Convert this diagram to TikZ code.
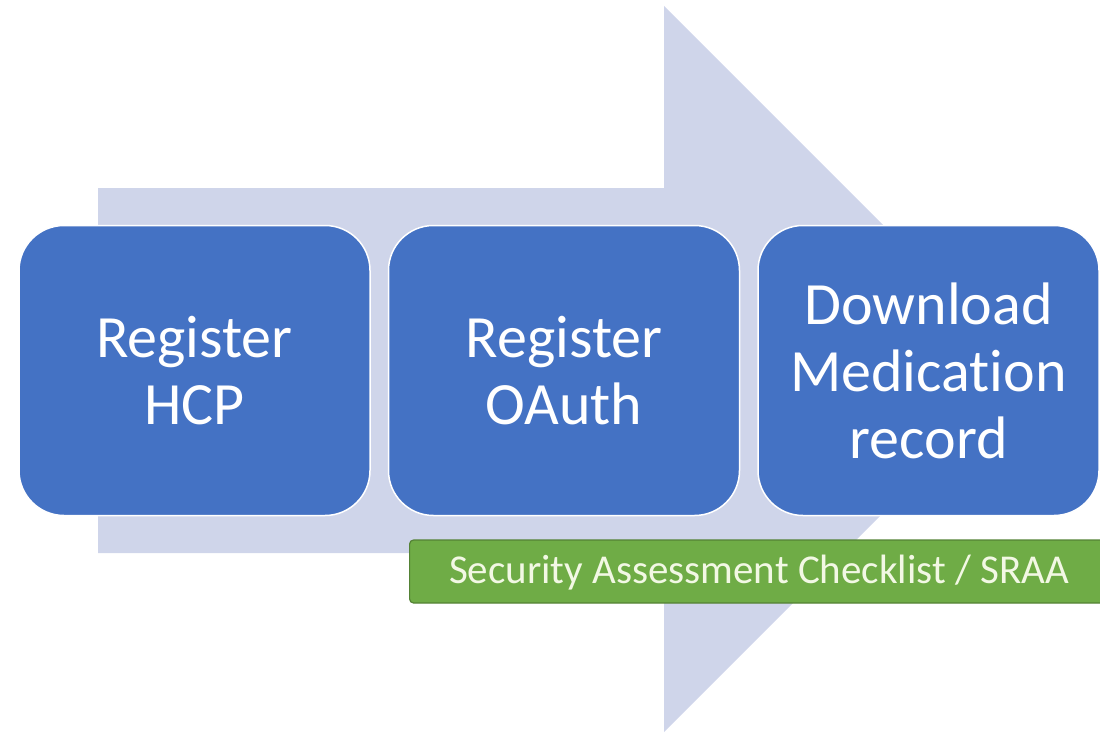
\documentclass[tikz,border=0pt]{standalone}
\usepackage{fontspec}
\setmainfont{Carlito}[Ligatures=NoCommon]
\usetikzlibrary{calc, positioning}
\definecolor{stepblue}{HTML}{4472C4}
\definecolor{arrowgray}{HTML}{CFD5EA}
\definecolor{checkgreen}{HTML}{6FAC46}
\definecolor{checkline}{HTML}{548235}
\definecolor{checktext}{HTML}{F2F8E4}
\tikzstyle{stepbox}=[rectangle, rounded corners=45pt, draw=white, line width=1.5pt, fill=stepblue, text=white, align=center, minimum width=351pt, minimum height=290pt, inner sep=0pt, font=\fontsize{60}{67}\selectfont]

\begin{document}
\begin{tikzpicture}[x=1pt, y=-1pt]

\useasboundingbox (0,0) rectangle (1100,733);
% big background arrow
\fill[arrowgray] (98,188) -- (664,188) -- (664,6) -- (1027,369) -- (664,732) -- (664,553) -- (98,553) -- cycle;

\node[stepbox] (hcp) at (194.5,370.5) {Register\\HCP};
\node[stepbox] (oauth) at (564,370.5) {Register\\OAuth};
\node[stepbox, minimum width=341pt] (record) at (928.5,370.5) {Download\\Medication\\record};

\node[rectangle, rounded corners=4pt, draw=checkline, line width=1.2pt, fill=checkgreen, minimum width=700pt, minimum height=63pt, inner sep=0pt, anchor=west] (sraa) at (409,571.5) {};
\node[text=checktext, font=\fontsize{41}{48}\selectfont, inner sep=0pt] (sraatext) at (759,573) {Security Assessment Checklist / SRAA};
\end{tikzpicture}
\end{document}
